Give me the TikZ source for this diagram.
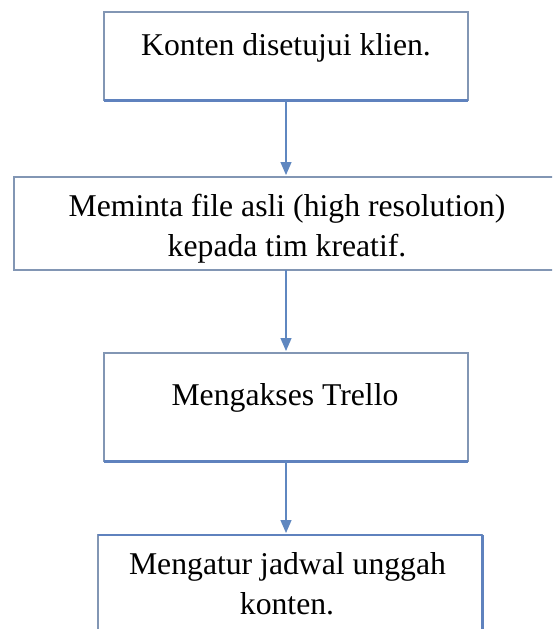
\documentclass[tikz,border=0pt]{standalone}
\usepackage{fontspec}
\setmainfont{Liberation Serif}
\usetikzlibrary{arrows.meta}
\definecolor{boxedge}{RGB}{130,150,180}
\definecolor{edgeblue}{RGB}{95,130,190}
\definecolor{arrowblue}{RGB}{95,135,192}
\tikzset{
  boxnode/.style={draw=boxedge, line width=1.3pt, rectangle, inner sep=0pt, outer sep=0pt, fill=white},
  thickedge/.style={draw=edgeblue, line width=3pt},
  midedge/.style={draw=edgeblue, line width=2pt},
  txt/.style={inner sep=0pt, outer sep=0pt, anchor=base, font=\fontsize{31.7}{40}\selectfont},
  flow/.style={draw=arrowblue, line width=1.3pt, -{Triangle[length=13pt,width=11pt]}, shorten >=2pt}
}
\begin{document}
\begin{tikzpicture}[x=1pt,y=1pt]
\useasboundingbox (0,0) rectangle (552,-629);
\clip (0,0) rectangle (552,-629);
\fill[white] (0,0) rectangle (552,-629);
% boxes
\node[boxnode, minimum width=364pt, minimum height=88pt] (b1) at (286,-56) {};
\node[boxnode, minimum width=546pt, minimum height=93pt] (b2) at (287,-223.5) {};
\node[boxnode, minimum width=364pt, minimum height=108pt] (b3) at (286,-407) {};
\node[boxnode, minimum width=384pt, minimum height=125pt] (b4) at (290,-597.5) {};
% emphasised edges
\draw[thickedge] (b1.south west) -- (b1.south east);
\draw[thickedge] (b3.south west) -- (b3.south east);
\draw[midedge] (b4.north west) -- (b4.north east);
\draw[thickedge] (b4.north east) -- (b4.south east);
% texts
\node[txt] (t1) at (286,-55) {Konten disetujui klien.};
\node[txt] (t2a) at (287,-216.5) {Meminta file asli (high resolution)};
\node[txt] (t2b) at (287,-256) {kepada tim kreatif.};
\node[txt] (t3) at (285,-405) {Mengakses Trello};
\node[txt] (t4a) at (287.5,-574) {Mengatur jadwal unggah};
\node[txt] (t4b) at (287,-614) {konten.};
% connectors
\draw[flow] (b1.south) -- (b1.south |- b2.north);
\draw[flow] (b1.south |- b2.south) -- (b1.south |- b3.north);
\draw[flow] (b3.south) -- (b3.south |- b4.north);
\end{tikzpicture}
\end{document}
